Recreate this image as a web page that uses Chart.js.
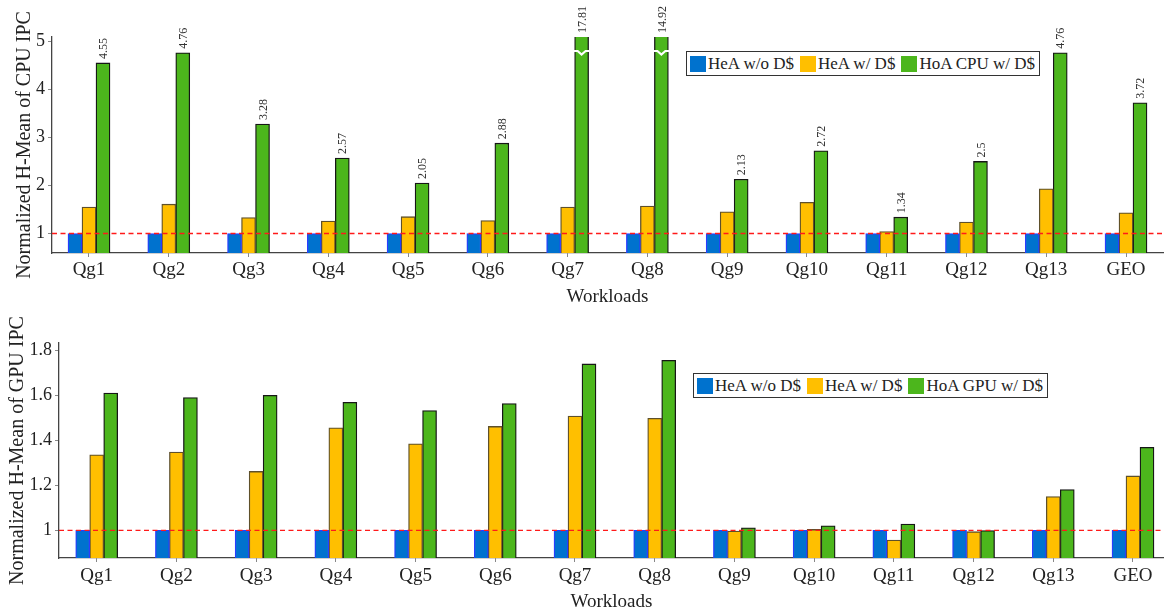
<!DOCTYPE html>
<html>
<head>
<meta charset="utf-8">
<script src="https://cdn.jsdelivr.net/npm/chart.js@4.4.1/dist/chart.umd.min.js"></script>
<style>
  html, body { margin: 0; padding: 0; background: #fff; overflow: hidden; width: 1164px; height: 613px; }
  #wrap { position: relative; width: 1164px; height: 613px; }
  canvas { position: absolute; left: 0; }
  .legend {
    position: absolute; display: flex; align-items: center; box-sizing: border-box;
    height: 25px; border: 1.3px solid #333; background: #fff; padding: 0 4px 0 3px;
    font: 17px 'Liberation Serif', serif; color: #222; white-space: nowrap;
  }
  .legend .it { display: flex; align-items: center; margin-right: 6px; }
  .legend .it:last-child { margin-right: 0; }
  .legend .sw { display: inline-block; width: 16px; height: 16px; margin-right: 2px; }
</style>
</head>
<body>
<div id="wrap">
  <canvas id="cpu" width="1164" height="310" style="top:0"></canvas>
  <canvas id="gpu" width="1164" height="313" style="top:300px"></canvas>
  <div id="cpuLegend" class="legend" style="left:686px;top:51px"></div>
  <div id="gpuLegend" class="legend" style="left:693px;top:373px"></div>
</div>
<script>
// Workloads on the x axis
const workloads = ['Qg1', 'Qg2', 'Qg3', 'Qg4', 'Qg5', 'Qg6', 'Qg7', 'Qg8', 'Qg9', 'Qg10', 'Qg11', 'Qg12', 'Qg13', 'GEO'];

// CPU IPC (normalized harmonic mean)
const cpuHeaNoCache = [1, 1, 1, 1, 1, 1, 1, 1, 1, 1, 1, 1, 1, 1];
const cpuHeaCache   = [1.55, 1.61, 1.33, 1.26, 1.35, 1.27, 1.55, 1.57, 1.45, 1.65, 1.04, 1.24, 1.93, 1.43];
const cpuHoaCache   = [4.55, 4.76, 3.28, 2.57, 2.05, 2.88, 17.81, 14.92, 2.13, 2.72, 1.34, 2.5, 4.76, 3.72];

// GPU IPC (normalized harmonic mean)
const gpuHeaNoCache = [1, 1, 1, 1, 1, 1, 1, 1, 1, 1, 1, 1, 1, 1];
const gpuHeaCache   = [1.336, 1.348, 1.262, 1.456, 1.385, 1.462, 1.508, 1.498, 0.997, 1.004, 0.957, 0.994, 1.15, 1.242];
const gpuHoaCache   = [1.61, 1.59, 1.60, 1.569, 1.533, 1.564, 1.74, 1.756, 1.011, 1.02, 1.028, 0.999, 1.181, 1.369];

// baseline (normalized to 1)
const baseline = 1;

// y tick values
const cpuTicks = [1, 2, 3, 4, 5];
const gpuTicks = [1, 1.2, 1.4, 1.6, 1.8];

const BLUE = '#0072CE', YELLOW = '#FFBF00', GREEN = '#4CB61C', RED = '#ff1a1a';
const SERIF = "'Liberation Serif', 'Times New Roman', serif";

const points = arr => arr.map((v, i) => ({ x: i, y: v }));

function makeDatasets(noCache, cache, hoa, hoaLabel, xMin, xMax) {
  const common = { type: 'bar', barThickness: 14, borderWidth: 1.3, borderSkipped: 'start' };
  return [
    Object.assign({ label: 'HeA w/o D$', data: points(noCache), backgroundColor: BLUE, borderColor: '#2a3cff' }, common),
    Object.assign({ label: 'HeA w/ D$', data: points(cache), backgroundColor: YELLOW, borderColor: '#5e502a' }, common),
    Object.assign({ label: hoaLabel, data: points(hoa), backgroundColor: GREEN, borderColor: '#161616' }, common),
    {
      type: 'line', label: 'baseline', order: -1,
      data: [{ x: xMin, y: baseline }, { x: xMax, y: baseline }],
      borderColor: RED, borderWidth: 1.3, borderDash: [5, 3.5],
      pointRadius: 0, fill: false, tension: 0
    }
  ];
}

// rotated value labels above one dataset; bars running past the top get a break mark
const valueLabels = {
  id: 'valueLabels',
  afterDatasetsDraw(chart, args, opts) {
    if (opts.datasetIndex == null) return;
    const meta = chart.getDatasetMeta(opts.datasetIndex);
    const data = chart.data.datasets[opts.datasetIndex].data;
    const { ctx, chartArea } = chart;
    ctx.save();
    meta.data.forEach((bar, i) => {
      const v = data[i].y;
      const clipped = bar.y < chartArea.top;
      const top = clipped ? chartArea.top : bar.y;
      if (clipped) {
        const half = bar.width / 2 + 1;
        const yb = chartArea.top + 14;
        ctx.strokeStyle = '#fff';
        ctx.lineWidth = 2.2;
        ctx.setLineDash([]);
        ctx.beginPath();
        ctx.moveTo(bar.x - half, yb);
        ctx.lineTo(bar.x - 4, yb);
        ctx.lineTo(bar.x, yb + 3.5);
        ctx.lineTo(bar.x + 4, yb);
        ctx.lineTo(bar.x + half, yb);
        ctx.stroke();
      }
      ctx.save();
      ctx.translate(bar.x + 1, top - 4);
      ctx.rotate(-Math.PI / 2);
      ctx.fillStyle = '#333';
      ctx.font = '12px ' + SERIF;
      ctx.textAlign = 'left';
      ctx.textBaseline = 'middle';
      ctx.fillText(String(v), 0, 0);
      ctx.restore();
    });
    ctx.restore();
  }
};

function makeChart(canvas, cfg) {
  const tickFontX = { family: SERIF, size: 19 };
  const tickFontY = { family: SERIF, size: 18 };
  return new Chart(canvas, {
    type: 'bar',
    data: { datasets: cfg.datasets },
    plugins: [valueLabels],
    options: {
      responsive: false,
      animation: false,
      events: [],
      layout: { padding: { top: cfg.padTop, right: cfg.padRight, left: 0, bottom: 0 } },
      plugins: {
        legend: { display: false },
        tooltip: { enabled: false },
        valueLabels: { datasetIndex: cfg.labelDataset }
      },
      scales: {
        x: {
          type: 'linear',
          min: cfg.xMin, max: cfg.xMax,
          offset: false,
          afterFit: s => { s.height = cfg.xHeight; },
          afterBuildTicks: s => { s.ticks = workloads.map((_, i) => ({ value: i })); },
          ticks: {
            callback: v => workloads[v],
            autoSkip: false, maxRotation: 0, minRotation: 0,
            font: tickFontX, color: '#222', padding: cfg.xTickPad
          },
          grid: { offset: false, drawOnChartArea: false, drawTicks: true, tickLength: 4, color: '#888' },
          border: { display: true, color: '#444', width: 1.3 },
          title: {
            display: true, text: 'Workloads', color: '#222',
            font: { family: SERIF, size: 19 }, padding: { top: 0, bottom: cfg.xTitlePad }
          }
        },
        y: {
          min: cfg.yMin, max: cfg.yMax,
          afterFit: s => { s.width = cfg.yWidth; },
          afterBuildTicks: s => { s.ticks = cfg.yTicks.map(v => ({ value: v })); },
          ticks: { callback: v => String(v), font: tickFontY, color: '#222', padding: 3 },
          grid: { drawOnChartArea: false, drawTicks: true, tickLength: 4, color: '#888' },
          border: { display: true, color: '#444', width: 1.3 },
          title: {
            display: true, text: cfg.yTitle, color: '#222',
            font: { family: SERIF, size: 20 }, padding: { top: cfg.yTitlePad, bottom: 0 }
          }
        }
      }
    }
  });
}

function buildLegend(el, datasets) {
  datasets.filter(ds => ds.type === 'bar').forEach(ds => {
    const it = document.createElement('span');
    it.className = 'it';
    const sw = document.createElement('span');
    sw.className = 'sw';
    sw.style.background = ds.backgroundColor;
    it.appendChild(sw);
    it.appendChild(document.createTextNode(ds.label));
    el.appendChild(it);
  });
}

const CPU_X = [-0.4638, 13.4638];
const GPU_X = [-0.473, 13.389];

const cpuDatasets = makeDatasets(cpuHeaNoCache, cpuHeaCache, cpuHoaCache, 'HoA CPU w/ D$', CPU_X[0], CPU_X[1]);
const gpuDatasets = makeDatasets(gpuHeaNoCache, gpuHeaCache, gpuHoaCache, 'HoA GPU w/ D$', GPU_X[0], GPU_X[1]);

makeChart(document.getElementById('cpu'), {
  datasets: cpuDatasets,
  padTop: 37, padRight: 1,
  xMin: CPU_X[0], xMax: CPU_X[1], xHeight: 57, xTickPad: 2, xTitlePad: 2,
  yMin: 0.594, yMax: 5.09, yWidth: 52, yTicks: cpuTicks,
  yTitle: 'Normalized H-Mean of CPU IPC', yTitlePad: 13,
  labelDataset: 2
});

makeChart(document.getElementById('gpu'), {
  datasets: gpuDatasets,
  padTop: 43, padRight: 0,
  xMin: GPU_X[0], xMax: GPU_X[1], xHeight: 55, xTickPad: 3, xTitlePad: 0,
  yMin: 0.877, yMax: 1.833, yWidth: 59, yTicks: gpuTicks,
  yTitle: 'Normalized H-Mean of GPU IPC', yTitlePad: 6,
  labelDataset: null
});

buildLegend(document.getElementById('cpuLegend'), cpuDatasets);
buildLegend(document.getElementById('gpuLegend'), gpuDatasets);
</script>
</body>
</html>
